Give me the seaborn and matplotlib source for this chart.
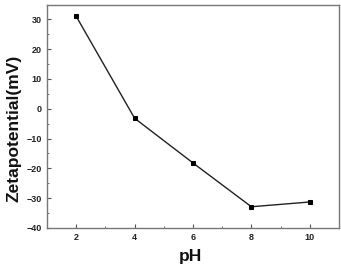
import matplotlib
matplotlib.use("Agg")
import matplotlib.pyplot as plt
import seaborn as sns
import pandas as pd
from matplotlib.ticker import MultipleLocator

ph = [2, 4, 6, 8, 10]
zeta = [31.0, -3.2, -18.2, -32.9, -31.3]

data = pd.DataFrame({"pH": ph, "zeta": zeta})

sns.set_theme(style="ticks")
plt.rcParams['font.family'] = ['Liberation Sans', 'DejaVu Sans']

fig = plt.figure(figsize=(3.41, 2.65), dpi=100)
ax = fig.add_axes([0.138, 0.140, 0.856, 0.843])

sns.lineplot(data=data, x="pH", y="zeta", ax=ax, color="#222222", linewidth=1.0,
             marker="s", markersize=3, markeredgecolor="black", markerfacecolor="black")

ax.set_xlim(1, 11)
ax.set_ylim(-40, 35)
ax.set_xticks([2, 4, 6, 8, 10])
ax.set_yticks([-40, -30, -20, -10, 0, 10, 20, 30])
ax.xaxis.set_minor_locator(MultipleLocator(1))
ax.yaxis.set_minor_locator(MultipleLocator(5))
ax.tick_params(which="both", direction="in", top=False, right=False, color="#555555")
ax.tick_params(which="major", length=3, width=0.8, labelsize=6.5, pad=4)
ax.tick_params(which="minor", length=1.5, width=0.6)
for lbl in ax.get_xticklabels() + ax.get_yticklabels():
    lbl.set_fontweight("bold")
    lbl.set_color("#222222")
for sp in ax.spines.values():
    sp.set_visible(True)
    sp.set_color("#777777")
    sp.set_linewidth(1.0)

ax.set_xlabel("pH", fontsize=12.5, fontweight="bold", color="#111111")
ax.set_ylabel("Zetapotential(mV)", fontsize=12.5, fontweight="bold", color="#111111")
ax.xaxis.set_label_coords(0.49, -0.128)
ax.yaxis.set_label_coords(-0.113, 0.447)
ax.yaxis.label.set_verticalalignment("center")
ax.xaxis.label.set_verticalalignment("center")

fig.savefig("out.png", dpi=100)
